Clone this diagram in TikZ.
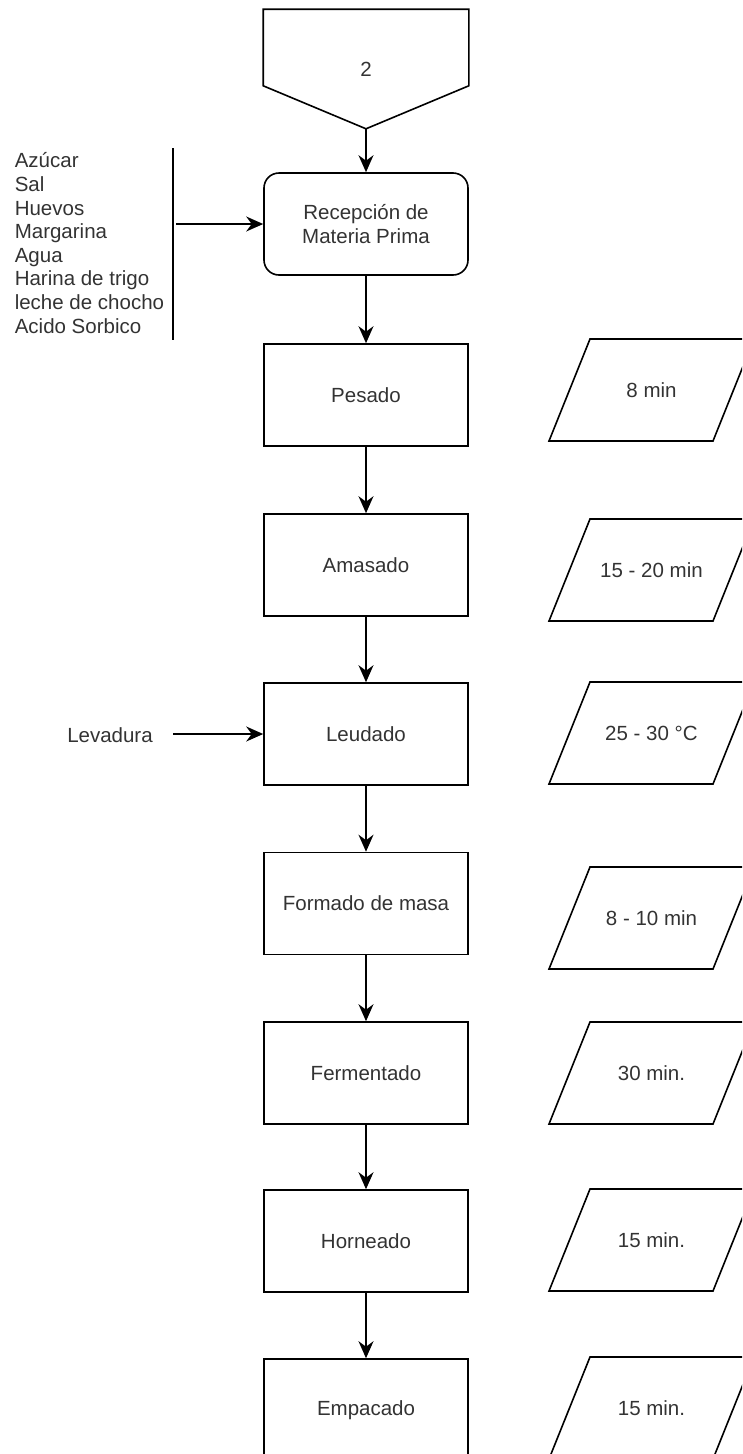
\documentclass[tikz,border=0pt]{standalone}
\usepackage{fontspec}
\setmainfont{Liberation Sans}
\usetikzlibrary{arrows.meta}
\definecolor{ink}{HTML}{000000}
\definecolor{txt}{HTML}{333333}

\begin{document}
\begin{tikzpicture}[x=1pt,y=-1pt,
  line width=1.6pt,
  every node/.style={font=\fontsize{20.5}{23.6}\selectfont, text=txt},
  proc/.style={draw=ink, minimum width=204pt, minimum height=102pt, inner sep=0pt},
  startbox/.style={proc, rounded corners=15pt},
  flow/.style={draw=ink, -{Stealth[length=17pt,width=15pt,inset=5.5pt]}},
  plain/.style={draw=ink},
  datatext/.style={inner sep=0pt},
]
\useasboundingbox (0,0) rectangle (742,1454);
\clip (0,0) rectangle (742,1454);

% off-page connector
\node[minimum width=204pt, minimum height=118pt, inner sep=0pt] (conn) at (366,69) {2};
\draw[plain] (conn.north west) -- (conn.north east) -- ([yshift=43pt]conn.south east)
  -- (conn.south) -- ([yshift=43pt]conn.south west) -- cycle;

% process chain
\node[startbox, align=center] (rec) at (366,224) {Recepción de\\Materia Prima};
\node[proc] (pes) at (366,395) {Pesado};
\node[proc] (ama) at (366,565) {Amasado};
\node[proc] (leu) at (366,734) {Leudado};
\node[proc] (frm) at (366,903.5) {Formado de masa};
\node[proc] (fer) at (366,1073) {Fermentado};
\node[proc] (hor) at (366,1241) {Horneado};
\node[proc] (emp) at (366,1410) {Empacado};

\draw[flow] (conn.south) -- (rec.north);
\draw[flow] (rec.south) -- (pes.north);
\draw[flow] (pes.south) -- (ama.north);
\draw[flow] (ama.south) -- (leu.north);
\draw[flow] (leu.south) -- (frm.north);
\draw[flow] (frm.south) -- (fer.north);
\draw[flow] (fer.south) -- (hor.north);
\draw[flow] (hor.south) -- (emp.north);

% raw materials
\node[align=left, anchor=west, inner sep=0pt] (raw) at (14,243)
  {Azúcar\\Sal\\Huevos\\Margarina\\Agua\\Harina de trigo\\leche de chocho\\Acido Sorbico};
\coordinate (bt) at (173,148);
\coordinate (bb) at (173,340);
\draw[plain] (bt) -- (bb);
\coordinate (feed) at (176,224);
\draw[flow] (feed) -- (rec.west);

% yeast
\node[inner sep=0pt] (lev) at (110,735) {Levadura};
\coordinate (levs) at (173,734);
\draw[flow] (levs) -- (leu.west);

% process data
\foreach \n/\yy/\t in {d1/390/{8 min}, d2/570/{15 - 20 min}, d3/733/{25 - 30 °C},
    d4/918/{8 - 10 min}, d5/1073/{30 min.}, d6/1240/{15 min.}, d7/1408/{15 min.}}{
  \node[datatext] (\n) at (651.5,\yy) {\t};
  \draw[plain] (\n) ++(-102.5,51) -- ++(41,-102) -- ++(164,0) -- ++(-41,102) -- cycle;
}
\end{tikzpicture}
\end{document}
